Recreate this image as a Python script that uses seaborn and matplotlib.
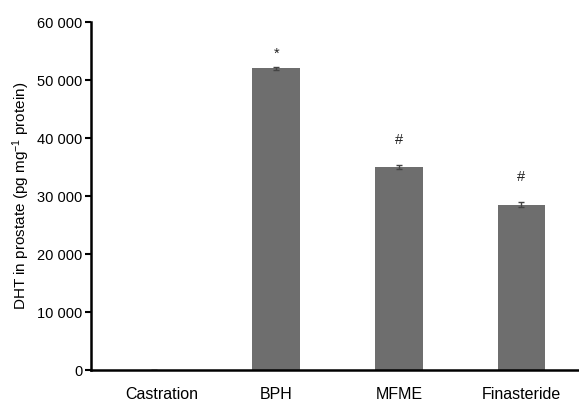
import matplotlib
matplotlib.use("Agg")
import matplotlib.pyplot as plt
import matplotlib.transforms as mtransforms
import seaborn as sns
import pandas as pd
from matplotlib.ticker import FuncFormatter, MultipleLocator

groups = ["Castration", "BPH", "MFME", "Finasteride"]
dht = [0, 52000, 35000, 28500]
sem = [0, 250, 350, 400]
marks = ["", "*", "#", "#"]
mark_gap = [0, 2300, 4300, 4300]

sns.set_theme(style="white")
plt.rcParams["font.family"] = ["Liberation Sans", "DejaVu Sans"]
plt.rcParams["mathtext.fontset"] = "custom"
plt.rcParams["mathtext.rm"] = "Liberation Sans"
plt.rcParams["mathtext.it"] = "Liberation Sans:italic"

df = pd.DataFrame({"group": groups, "dht": dht, "sem": sem})

fig = plt.figure(figsize=(5.79, 4.04), dpi=100)
ax = fig.add_axes([0.157, 0.084, 0.843, 0.8615])

sns.barplot(data=df, x="group", y="dht", color="#6e6e6e", saturation=1,
            width=0.39, errorbar=None, ax=ax)
for p in ax.patches:
    p.set_edgecolor("none")

xs = list(range(len(groups)))
ax.errorbar(xs, dht, yerr=sem, fmt="none", ecolor="#444444",
            elinewidth=1, capsize=2.5, capthick=1)

for x, v, e, m, g in zip(xs, dht, sem, marks, mark_gap):
    if m:
        ax.text(x, v + e + g, m, ha="center", va="center", fontsize=10.5,
                color="#222222")

ax.set_ylim(0, 60000)
ax.set_xlim(-0.514, 3.47)
ax.yaxis.set_major_locator(MultipleLocator(10000))
ax.yaxis.set_major_formatter(FuncFormatter(lambda v, p: f"{int(v):,}".replace(",", " ")))

ax.set_xlabel("")
ax.set_ylabel("DHT in prostate (pg mg$^{-1}$ protein)", fontsize=11, color="black", labelpad=4)

for s in ["top", "right"]:
    ax.spines[s].set_visible(False)
for s in ["left", "bottom"]:
    ax.spines[s].set_color("black")
    ax.spines[s].set_linewidth(1.8)

ax.tick_params(axis="y", which="major", left=True, length=4, width=1.5,
               color="black", labelsize=10.5, labelcolor="black", pad=2)
ax.tick_params(axis="x", bottom=False, labelsize=11.5, labelcolor="black", pad=6.5)

# the first category label sits slightly right of its slot in the reference
lbl = ax.get_xticklabels()[0]
lbl.set_transform(lbl.get_transform() + mtransforms.ScaledTranslation(7.5 / 100, 0, fig.dpi_scale_trans))

fig.savefig("out.png", dpi=100)
